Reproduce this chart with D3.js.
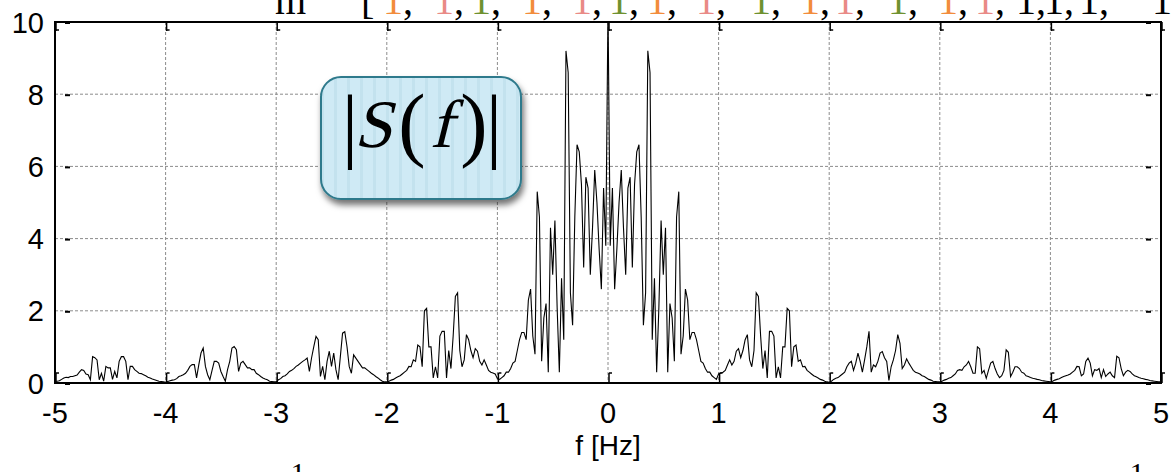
<!DOCTYPE html>
<html>
<head>
<meta charset="utf-8">
<script src="https://cdn.jsdelivr.net/npm/d3@7"></script>
<style>
  body { margin: 0; background: #fff; }
  svg { display: block; }
</style>
</head>
<body>
<div id="chart"></div>
<script>
var width = 1173,
    height = 472

// spectrum |S(f)|, sampled every 0.02 Hz
var freqStep = 0.02

// f = -5.00 ... -0.02
var magNeg = [
  0.05, 0.05, 0.06, 0.1, 0.14, 0.16, 0.15, 0.18, 0.18, 0.2, 0.22, 0.3, 0.37, 0.35, 0.25, 0.23, 0.09, 0.73, 0.7, 0.64, 0.09, 0.27, 0.05, 0.46, 0.42, 0.42, 0.1, 0.32, 0.14, 0.6, 0.73, 0.73, 0.6, 0.09, 0.46, 0.46, 0.37, 0.32, 0.27, 0.26, 0.23, 0.2, 0.16, 0.14, 0.11, 0.09, 0.07, 0.05, 0.04, 0.03,
  0.02, 0.04, 0.06, 0.08, 0.09, 0.12, 0.18, 0.2, 0.23, 0.27, 0.35, 0.46, 0.51, 0.51, 0.14, 0.5, 0.83, 0.97, 0.46, 0.23, 0.09, 0.35, 0.6, 0.6, 0.55, 0.32, 0.18, 0.05, 0.37, 0.6, 0.97, 1.01, 0.92, 0.32, 0.55, 0.6, 0.51, 0.42, 0.42, 0.37, 0.37, 0.27, 0.23, 0.18, 0.14, 0.11, 0.09, 0.05, 0.04, 0.03,
  0.03, 0.09, 0.12, 0.18, 0.2, 0.25, 0.32, 0.35, 0.4, 0.46, 0.5, 0.55, 0.6, 0.64, 0.69, 0.32, 0.7, 1.01, 1.29, 1.2, 0.18, 0.46, 0.09, 0.6, 0.88, 0.46, 0.83, 0.37, 0.09, 0.73, 1.38, 1.42, 1.01, 0.46, 0.27, 0.78, 0.69, 0.6, 0.51, 0.42, 0.42, 0.37, 0.32, 0.27, 0.23, 0.18, 0.14, 0.09, 0.05, 0.03,
  0.03, 0.05, 0.08, 0.1, 0.14, 0.17, 0.2, 0.25, 0.3, 0.35, 0.46, 0.45, 0.64, 0.6, 1.05, 1.0, 0.45, 2.0, 2.07, 1.0, 1.0, 0.14, 0.45, 0.14, 1.3, 1.43, 1.43, 0.14, 0.9, 0.4, 1.3, 2.4, 2.5, 0.9, 0.45, 0.64, 1.34, 1.2, 0.9, 0.7, 0.95, 0.88, 0.6, 0.5, 0.64, 0.5, 0.35, 0.3, 0.28, 0.25,
  0.12, 0.1, 0.15, 0.2, 0.3, 0.3, 0.4, 0.55, 0.6, 0.9, 1.2, 1.4, 1.4, 1.2, 2.3, 2.6, 1.3, 0.8, 5.3, 4.6, 0.6, 1.8, 2.2, 0.3, 4.3, 3.0, 4.5, 2.1, 0.3, 2.9, 1.2, 9.2, 8.6, 2.5, 1.6, 4.6, 6.6, 6.4, 5.5, 3.2, 5.7, 5.4, 3.0, 4.3, 5.9, 5.0, 3.7, 2.6, 5.4, 3.8
]

// f = 0.00 ... 5.00
var magPos = [
  10.4, 3.8, 5.4, 2.6, 3.7, 5.0, 5.9, 4.3, 3.0, 5.4, 5.7, 3.2, 5.5, 6.4, 6.6, 4.6, 1.6, 2.5, 9.2, 8.6, 1.2, 2.9, 0.3, 2.1, 4.5, 3.0, 4.3, 0.3, 2.2, 1.8, 0.6, 4.6, 5.3, 0.8, 1.3, 2.6, 2.3, 1.2, 1.4, 1.4, 1.2, 0.9, 0.6, 0.55, 0.4, 0.3, 0.3, 0.2, 0.15, 0.1,
  0.25, 0.28, 0.3, 0.35, 0.5, 0.64, 0.5, 0.6, 0.88, 0.95, 0.7, 0.9, 1.2, 1.34, 0.64, 0.45, 0.9, 2.5, 2.4, 1.3, 0.4, 0.9, 0.14, 1.43, 1.43, 1.3, 0.14, 0.45, 0.14, 1.0, 1.0, 2.07, 2.0, 0.45, 1.0, 1.05, 0.6, 0.64, 0.45, 0.46, 0.35, 0.3, 0.25, 0.2, 0.17, 0.14, 0.1, 0.08, 0.05, 0.03,
  0.02, 0.05, 0.1, 0.13, 0.15, 0.2, 0.25, 0.3, 0.45, 0.55, 0.6, 0.35, 0.55, 0.83, 0.6, 0.3, 0.64, 1.0, 1.43, 0.3, 0.5, 0.45, 0.6, 0.83, 0.87, 0.7, 0.6, 0.07, 0.45, 0.64, 0.9, 1.34, 1.1, 0.4, 0.5, 0.67, 0.55, 0.45, 0.35, 0.3, 0.28, 0.25, 0.2, 0.18, 0.14, 0.1, 0.08, 0.05, 0.04, 0.03,
  0.03, 0.05, 0.08, 0.1, 0.13, 0.15, 0.2, 0.25, 0.35, 0.37, 0.35, 0.45, 0.5, 0.6, 0.45, 0.27, 0.27, 1.0, 0.95, 0.27, 0.35, 0.13, 0.35, 0.55, 0.6, 0.4, 0.25, 0.15, 0.2, 0.35, 0.92, 0.85, 0.18, 0.3, 0.45, 0.45, 0.4, 0.3, 0.27, 0.2, 0.18, 0.15, 0.13, 0.12, 0.1, 0.09, 0.07, 0.06, 0.05, 0.04,
  0.03, 0.05, 0.08, 0.1, 0.12, 0.15, 0.18, 0.2, 0.22, 0.25, 0.3, 0.35, 0.46, 0.45, 0.2, 0.25, 0.6, 0.69, 0.55, 0.2, 0.37, 0.35, 0.4, 0.15, 0.37, 0.18, 0.25, 0.3, 0.2, 0.15, 0.74, 0.7, 0.4, 0.2, 0.3, 0.35, 0.32, 0.25, 0.2, 0.18, 0.15, 0.13, 0.12, 0.1, 0.09, 0.07, 0.06, 0.05, 0.04, 0.03,
  0.03
]

var xTicks = [-5, -4, -3, -2, -1, 0, 1, 2, 3, 4, 5]
var yTicks = [0, 2, 4, 6, 8, 10]

// sequence text cut off at the top of the figure
var seqSymbols = ["1", "1", "1", "1", "1", "1", "1", "1", "1", "1", "1", "1", "1", "1", "1", "1", "1", "1"]
var seqColors = ["#f28c3c", "#e98a86", "#6f9130", "#f28c3c", "#e98a86", "#6f9130", "#f28c3c", "#e98a86", "#6f9130", "#f28c3c", "#e98a86", "#6f9130", "#f28c3c", "#e98a86", "#000", "#000", "#000", "#000"]
var seqX = [398, 449, 486, 537, 587, 624, 662, 711, 766, 815, 850, 903, 953, 990, 1031, 1059, 1094, 1162]

var svg = d3.select("#chart")
    .append("svg")
    .attr("width", width)
    .attr("height", height)
    .style("font-family", "'Liberation Sans', Arial, sans-serif")

var x = d3.scaleLinear().domain([-5, 5]).range([55, 1161])
var y = d3.scaleLinear().domain([0, 10]).range([383, 22])

// grid
svg.append("g").selectAll("line").data(xTicks.slice(1, -1)).join("line")
    .attr("x1", d => x(d)).attr("x2", d => x(d))
    .attr("y1", y(10)).attr("y2", y(0))
    .attr("stroke", "#8c8c8c").attr("stroke-width", 1).attr("stroke-dasharray", "3,2")
svg.append("g").selectAll("line").data(yTicks.slice(1, -1)).join("line")
    .attr("x1", x(-5)).attr("x2", x(5))
    .attr("y1", d => y(d)).attr("y2", d => y(d))
    .attr("stroke", "#8c8c8c").attr("stroke-width", 1).attr("stroke-dasharray", "3,2")

// spectrum line
var freqs = d3.range(-magNeg.length, magPos.length).map(i => i * freqStep)
var mags = magNeg.concat(magPos)
var points = freqs.map((f, i) => [f, mags[i]])

svg.append("clipPath").attr("id", "plotclip")
  .append("rect").attr("x", x(-5)).attr("y", y(10)).attr("width", x(5) - x(-5)).attr("height", y(0) - y(10))

svg.append("path")
    .datum(points)
    .attr("clip-path", "url(#plotclip)")
    .attr("fill", "none")
    .attr("stroke", "#000")
    .attr("stroke-width", 1.1)
    .attr("d", d3.line().x(d => x(d[0])).y(d => y(d[1])))

// inward tick marks
var tk = svg.append("g").attr("stroke", "#000").attr("stroke-width", 1.5)
xTicks.forEach(function (d) {
  tk.append("line").attr("x1", x(d) + 1).attr("x2", x(d) + 1).attr("y1", y(10)).attr("y2", y(10) + 9)
  tk.append("line").attr("x1", x(d) + 1).attr("x2", x(d) + 4).attr("y1", y(10) + 8).attr("y2", y(10) + 8)
  tk.append("line").attr("x1", x(d) + 1).attr("x2", x(d) + 1).attr("y1", y(0)).attr("y2", y(0) - 10)
  tk.append("line").attr("x1", x(d) + 1).attr("x2", x(d) + 4).attr("y1", y(0) - 10).attr("y2", y(0) - 10)
})
yTicks.forEach(function (d) {
  tk.append("line").attr("x1", x(-5) + 10).attr("x2", x(-5) + 15).attr("y1", y(d) + 1).attr("y2", y(d) + 1).attr("stroke-width", 2)
  tk.append("line").attr("x1", x(5) - 15).attr("x2", x(5) - 10).attr("y1", y(d) + 1).attr("y2", y(d) + 1).attr("stroke-width", 2)
})

// frame
svg.append("rect")
    .attr("x", x(-5)).attr("y", y(10))
    .attr("width", x(5) - x(-5)).attr("height", y(0) - y(10))
    .attr("fill", "none").attr("stroke", "#000").attr("stroke-width", 2)

// axis labels
svg.append("g").selectAll("text").data(xTicks).join("text")
    .attr("x", d => x(d)).attr("y", 423)
    .attr("text-anchor", "middle")
    .style("font-size", "29px")
    .text(d => d)
svg.append("g").selectAll("text").data(yTicks).join("text")
    .attr("x", 44).attr("y", d => y(d) + 10.5)
    .attr("text-anchor", "end")
    .style("font-size", "29px")
    .text(d => d)
svg.append("text").attr("x", x(0)).attr("y", 455)
    .attr("text-anchor", "middle").style("font-size", "28px")
    .text("f [Hz]")

// callout box |S(f)|
var defs = svg.append("defs")
var pat = defs.append("pattern").attr("id", "stripes").attr("patternUnits", "userSpaceOnUse")
    .attr("width", 13).attr("height", 10)
pat.append("rect").attr("width", 13).attr("height", 10).attr("fill", "#cfeaf5")
pat.append("rect").attr("x", 9).attr("width", 3).attr("height", 10).attr("fill", "#c3e2ee")
var sh = defs.append("filter").attr("id", "shadow").attr("x", "-20%").attr("y", "-20%").attr("width", "140%").attr("height", "150%")
sh.append("feDropShadow").attr("dx", 2).attr("dy", 5).attr("stdDeviation", 3).attr("flood-color", "#000").attr("flood-opacity", 0.55)

svg.append("rect")
    .attr("x", 321).attr("y", 77).attr("width", 200).attr("height", 122).attr("rx", 20)
    .attr("fill", "url(#stripes)").attr("stroke", "#2f7a8c").attr("stroke-width", 2)
    .attr("filter", "url(#shadow)")

var serifFont = "Liberation Serif"
var callout = svg.append("g").attr("font-family", serifFont).attr("fill", "#000")
function calloutGlyph(ch, cx, base, size, slant) {
  callout.append("text")
      .attr("transform", "translate(" + cx + "," + base + ") skewX(" + slant + ")")
      .attr("text-anchor", "middle")
      .attr("font-family", serifFont)
      .attr("font-size", size)
      .text(ch)
}
calloutGlyph("|", 350, 152, 82, 0)
calloutGlyph("S", 373, 147, 68, -14)
calloutGlyph("(", 412, 151, 82, 0)
calloutGlyph("f", 441, 147, 68, -14)
calloutGlyph(")", 474, 151, 82, 0)
calloutGlyph("|", 494, 152, 82, 0)

// sequence text cut off at the top
var seqText = svg.append("g").attr("font-family", serifFont).attr("font-size", 40)
seqText.append("text").attr("x", 275).attr("y", 14).text("m")
seqText.append("text").attr("x", 361).attr("y", 14).text("[")
seqSymbols.forEach(function (s, i) {
  var t = seqText.append("text").attr("x", seqX[i]).attr("y", 14).attr("text-anchor", "middle")
  t.append("tspan").attr("fill", seqColors[i]).text(s)
  if (i < seqSymbols.length - 1) t.append("tspan").attr("fill", "#000").text(",")
})

// tops of formula characters cut off at the bottom
var formulaBottom = svg.append("g").attr("font-family", serifFont).attr("font-size", 30)
formulaBottom.append("text").attr("x", 298).attr("y", 483).attr("text-anchor", "middle").text("1")
formulaBottom.append("text").attr("x", 1137).attr("y", 483).attr("text-anchor", "middle").text("1")
</script>
</body>
</html>
